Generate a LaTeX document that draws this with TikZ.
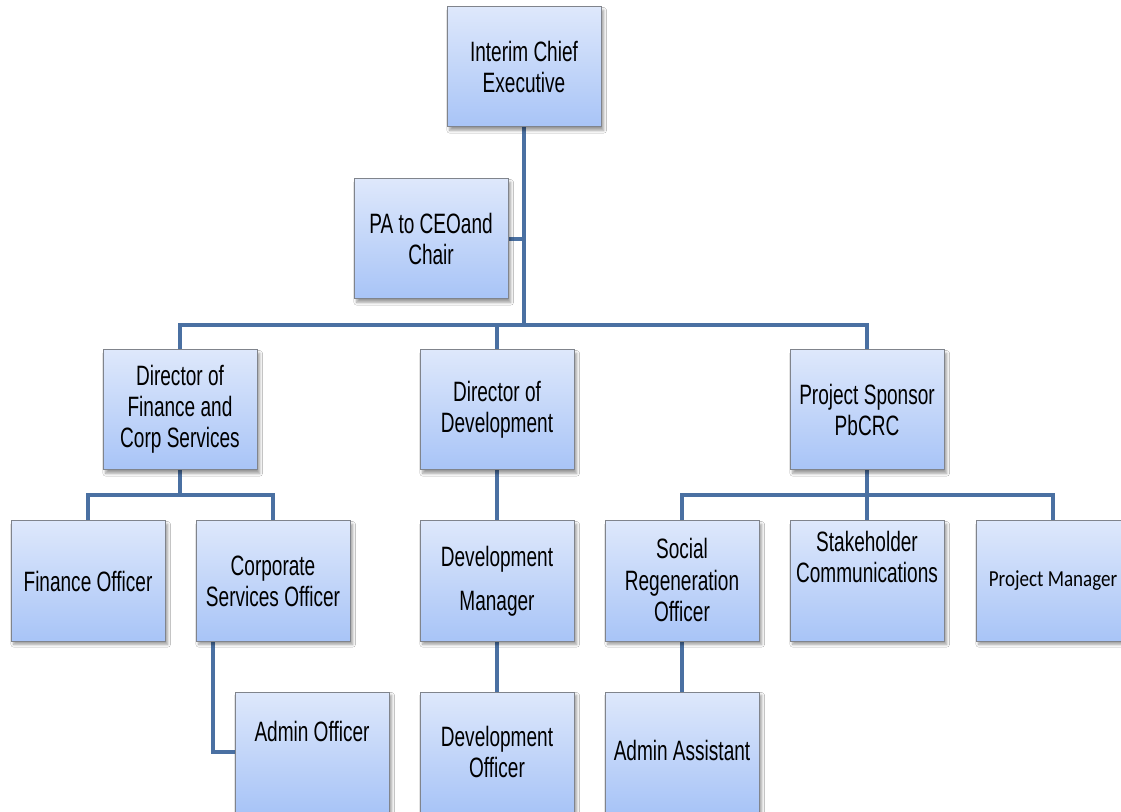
\documentclass[tikz,border=0pt]{standalone}
\usepackage{fontspec}
\setmainfont{Liberation Sans}[FakeStretch=0.68]
\newfontfamily\calib{Carlito}[FakeStretch=0.83]
\usetikzlibrary{shadows.blur,backgrounds}
\definecolor{linkc}{RGB}{74,112,162}
\definecolor{boxtop}{RGB}{222,232,251}
\definecolor{boxbot}{RGB}{168,196,247}
\definecolor{boxline}{RGB}{128,132,140}
\tikzset{
  orgbox/.style={draw=boxline, line width=0.75pt, top color=boxtop, bottom color=boxbot,
    minimum width=115.5pt, minimum height=90pt, inner sep=0pt,
    blur shadow={shadow xshift=2pt, shadow yshift=-2.5pt, shadow blur steps=6, shadow blur extra rounding=0pt}},
  orgtxt/.style={align=center, inner sep=0pt, font=\fontsize{21}{23.3}\selectfont},
  conn/.style={draw=linkc, line width=3pt, line cap=butt, line join=miter}
}
\begin{document}
\begin{tikzpicture}[x=0.75pt, y=-0.75pt]
\useasboundingbox (0,0) rectangle (1121,812);
\clip (0,0) rectangle (1121,812);
% boxes
\node[orgbox] (ceo)  at (524,67)  {};
\node[orgbox] (pa)   at (431,239) {};
\node[orgbox] (dfin) at (180,410) {};
\node[orgbox] (ddev) at (497,410) {};
\node[orgbox] (psp)  at (867,410) {};
\node[orgbox] (fo)   at (88,581)  {};
\node[orgbox] (cso)  at (273,581) {};
\node[orgbox] (dm)   at (497,581) {};
\node[orgbox] (sro)  at (682,581) {};
\node[orgbox] (sc)   at (867,581) {};
\node[orgbox] (pm)   at (1053,581) {};
\node[orgbox] (ao)   at (312,752) {};
\node[orgbox] (do)   at (497,752) {};
\node[orgbox] (aa)   at (682,752) {};
% texts
\node[orgtxt] (ceo-t)  at (524,67)  {Interim Chief\\Executive};
\node[orgtxt] (pa-t)   at (431,239) {PA to CEOand\\Chair};
\node[orgtxt] (dfin-t) at (180,409) {Director of\\Finance and\\Corp Services};
\node[orgtxt] (ddev-t) at (497,410) {Director of\\Development};
\node[orgtxt] (psp-t)  at (867,410) {Project Sponsor\\PbCRC};
\node[orgtxt] (fo-t)   at (88,581)  {Finance Officer};
\node[orgtxt] (cso-t)  at (273,581) {Corporate\\Services Officer};
\node[orgtxt] (dm-t)   at (497,581) {Development\\[10pt]Manager};
\node[orgtxt] (sro-t)  at (682,580) {Social\\Regeneration\\Officer};
\node[orgtxt] (sc-t)   at (867,557) {Stakeholder\\Communications};
\node[orgtxt, font=\calib\fontsize{17.2}{20}\selectfont] (pm-t) at (1053,581) {Project Manager};
\node[orgtxt] (ao-t)   at (312,731) {Admin Officer};
\node[orgtxt] (do-t)   at (497,752) {Development\\Officer};
\node[orgtxt] (aa-t)   at (682,750) {Admin Assistant};
% connectors
\coordinate (bus) at (0,325);
\coordinate (busf) at (0,495);
\begin{scope}[on background layer]
\fill[white] (0,0) rectangle (1121,812);
\draw[conn] (ceo.south) -- (ceo.south |- bus);
\draw[conn] (pa.east) -- (pa.east -| ceo.south);
\draw[conn] (dfin.north) -- (dfin.north |- bus) -- (psp.north |- bus) -- (psp.north);
\draw[conn] (ddev.north) -- (ddev.north |- bus);
\draw[conn] (fo.north) -- (fo.north |- busf) -- (cso.north |- busf) -- (cso.north);
\draw[conn] (dfin.south) -- (dfin.south |- busf);
\draw[conn] (sro.north) -- (sro.north |- busf) -- (pm.north |- busf) -- (pm.north);
\draw[conn] (psp.south) -- (sc.north);
\draw[conn] (ddev.south) -- (dm.north);
\draw[conn] (dm.south) -- (do.north);
\draw[conn] (sro.south) -- (aa.north);
\draw[conn] ([xshift=12.75pt]cso.south west) |- (ao.west);
\end{scope}
\end{tikzpicture}
\end{document}
